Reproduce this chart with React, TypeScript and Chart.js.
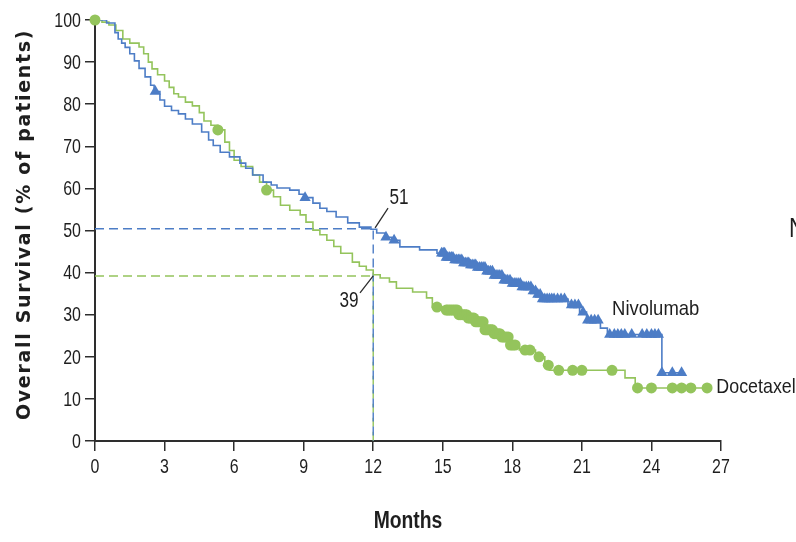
import React, { useEffect, useRef } from "react";
import { Chart, registerables } from "chart.js";

Chart.register(...registerables);

// ---- Data ----
const monthTicksMax = 27;
const monthStep = 3;
const survivalMax = 100;
const survivalStep = 10;

const nivolumabMonths = [
  0, 0.5, 0.86, 1.0, 1.15, 1.3, 1.5, 1.7, 1.9, 2.16, 2.4, 2.55, 2.8, 3.0, 3.3, 3.6, 3.9, 4.2, 4.6, 4.9,
  5.1, 5.4, 5.8, 6.25, 6.5, 6.8, 7.25, 7.6, 7.85, 8.4, 8.8, 9.0, 9.4, 9.7, 10.0, 10.4, 10.9, 11.4, 11.9,
  12.15, 12.5, 12.8, 13.15, 14.0, 14.75, 15.1, 15.5, 15.9, 16.2, 16.5, 16.9, 17.2, 17.6, 18.0, 18.4, 18.9,
  19.1, 19.3, 20.4, 20.9, 21.2, 21.8, 22.1, 24.45, 25.45,
];
const nivolumabSurvival = [
  100, 99.3, 97, 95.5, 94.5, 93.5, 92, 90.3, 88.5, 86.5, 84.5, 83, 81, 79.5, 78.5, 77.7, 76.5, 75.3, 73.4, 71.5,
  70.2, 68.6, 67.5, 66, 64.8, 63.2, 61.5, 60.8, 60.1, 59.6, 58.6, 57.8, 56.5, 55.3, 54.5, 53.2, 51.8, 50.8, 50.3,
  49.4, 48.4, 47.7, 46.1, 45.4, 44.6, 43.6, 43.0, 42.3, 41.8, 41.2, 40.3, 39.3, 38.2, 37.4, 36.6, 35.6,
  34.8, 33.7, 32.3, 30.6, 28.7, 26.8, 25.3, 16.2, 16.2,
];
const nivolumabCensored = [
  2.6, 9.06, 12.55, 12.9,
  14.95, 15.02, 15.08, 15.15, 15.22, 15.3, 15.37, 15.44, 15.52, 15.6, 15.67, 15.74, 15.82, 15.9, 15.97,
  16.05, 16.12, 16.2, 16.27, 16.35, 16.42, 16.5, 16.58, 16.66, 16.74, 16.82, 16.9, 16.98, 17.06, 17.14,
  17.22, 17.3, 17.38, 17.46, 17.55, 17.64, 17.72, 17.8, 17.9, 18.0, 18.08, 18.16, 18.25, 18.34, 18.42,
  18.5, 18.6, 18.7, 18.8, 18.9, 19.0, 19.1, 19.2, 19.3, 19.4, 19.5, 19.6, 19.7, 19.8, 19.95, 20.1, 20.25,
  20.55, 20.7, 20.85, 21.05, 21.25, 21.4, 21.55, 21.7,
  22.2, 22.4, 22.55, 22.7, 22.85, 23.15, 23.6, 23.8, 24.0, 24.15, 24.3, 24.45, 24.9, 25.3,
];

const docetaxelMonths = [
  0, 0.3, 0.6, 0.9, 1.2, 1.5, 1.9, 2.1, 2.3, 2.46, 2.7, 3.0, 3.2, 3.4, 3.6, 3.9, 4.2, 4.5, 4.7, 5.0,
  5.3, 5.6, 5.8, 6.0, 6.3, 6.8, 7.1, 7.4, 7.7, 8.0, 8.4, 8.85, 9.1, 9.4, 9.7, 10.0, 10.3, 10.6, 11.1,
  11.4, 11.7, 12.0, 12.3, 12.7, 13.0, 13.7, 14.3, 14.55, 15.1, 15.7, 16.1, 16.4, 16.8, 17.2, 17.5, 17.9,
  18.3, 19.0, 19.4, 19.6, 22.86, 23.3, 26.4,
];
const docetaxelSurvival = [
  100, 99.5, 98.8, 97.5, 95.5, 94.5, 93.6, 92, 90, 88.4, 87, 85.5, 84, 82.5, 81.7, 80.5, 79.6, 78, 76, 75,
  73.9, 71, 69, 66.7, 65.2, 63.2, 61.5, 59.6, 58, 56, 54.8, 53.7, 52, 50.1, 49, 47.7, 46.2, 44.6, 42.5,
  41.5, 40.6, 39.5, 38.7, 37.8, 36.3, 35.4, 34, 31.8, 31.1, 30, 29.2, 28.3, 26.4, 25.5, 24.7, 22.8,
  21.6, 20, 18, 16.8, 15, 12.6, 12.6,
];
const docetaxelCensored = [
  0, 5.3, 7.4, 14.75,
  15.15, 15.22, 15.3, 15.38, 15.46, 15.54, 15.62, 15.7, 15.78, 15.86, 15.94, 16.02, 16.1, 16.18, 16.26,
  16.34, 16.42, 16.5, 16.58, 16.66, 16.74, 16.82, 16.9, 16.98, 17.06, 17.14, 17.22, 17.3, 17.38, 17.46,
  17.55, 17.64, 17.73, 17.82, 17.92, 18.02, 18.12, 18.55, 18.76,
  19.15, 19.55, 20.0, 20.6, 21.0, 22.3,
  23.4, 24.0, 24.9, 25.3, 25.7, 26.4,
];

const landmarkMonth = 12;
const nivolumabAtLandmark = 50.4;
const docetaxelAtLandmark = 39.2;
const landmarkLabels = ["51", "39"];
const seriesNames = ["Nivolumab", "Docetaxel"];
const xTitle = "Months";
const yTitle = "Overall Survival (% of patients)";
const clippedSideText = "N";

// ---- Styling ----
const BLUE = "#4d7dc6";
const GREEN = "#94c45c";
const AXIS = "#2e2e2e";
const TEXT = "#1e1e1e";
const SANS = '"Liberation Sans", Arial, sans-serif';

function stepValue(times: number[], values: number[], t: number): number {
  let v = values[0];
  for (let i = 0; i < times.length; i++) {
    if (times[i] <= t + 1e-9) v = values[i];
    else break;
  }
  return v;
}

function narrowText(
  ctx: CanvasRenderingContext2D,
  text: string,
  x: number,
  y: number,
  font: string,
  sx: number,
  align: CanvasTextAlign,
  baseline: CanvasTextBaseline
) {
  ctx.save();
  ctx.translate(x, y);
  ctx.scale(sx, 1);
  ctx.font = font;
  ctx.textAlign = align;
  ctx.textBaseline = baseline;
  ctx.fillText(text, 0, 0);
  ctx.restore();
}

const annotationPlugin = {
  id: "kmAnnotations",
  afterDatasetsDraw(chart: any) {
    const { ctx, scales } = chart;
    const x = scales.x;
    const y = scales.y;
    const px = (v: number) => x.getPixelForValue(v);
    const py = (v: number) => y.getPixelForValue(v);
    ctx.save();
    // leader lines
    ctx.strokeStyle = AXIS;
    ctx.lineWidth = 1.3;
    ctx.beginPath();
    ctx.moveTo(px(12.08), py(50.6));
    ctx.lineTo(px(12.64), py(55.3));
    ctx.moveTo(px(12.0), py(39.2));
    ctx.lineTo(px(11.43), py(35.2));
    ctx.stroke();

    ctx.fillStyle = TEXT;
    narrowText(ctx, landmarkLabels[0], px(13.11), py(57.7), `22px ${SANS}`, 0.78, "center", "middle");
    narrowText(ctx, landmarkLabels[1], px(10.96), py(33.3), `22px ${SANS}`, 0.78, "center", "middle");

    narrowText(ctx, seriesNames[0], px(22.3), py(31.4), `21px ${SANS}`, 0.88, "left", "middle");
    narrowText(ctx, seriesNames[1], px(26.8), py(12.8), `21px ${SANS}`, 0.85, "left", "middle");

    narrowText(ctx, clippedSideText, chart.width - 7, 237, `28px ${SANS}`, 0.8, "left", "alphabetic");

    // tick labels
    const tickFont = `21px ${SANS}`;
    for (const t of y.ticks) {
      narrowText(ctx, String(t.value), y.right - 14, py(t.value) + 1, tickFont, 0.76, "right", "middle");
    }
    for (const t of x.ticks) {
      narrowText(ctx, String(t.value), px(t.value), x.top + 26, tickFont, 0.76, "center", "middle");
    }

    // axis titles
    narrowText(ctx, xTitle, (x.left + x.right) / 2, 522, `bold 23px ${SANS}`, 0.84, "center", "middle");

    ctx.save();
    ctx.translate(25, (y.top + y.bottom) / 2 - 6);
    ctx.rotate(-Math.PI / 2);
    ctx.font = `bold 19px "DejaVu Sans", "Open Sans", sans-serif`;
    (ctx as any).letterSpacing = "1.7px";
    ctx.textAlign = "center";
    ctx.textBaseline = "middle";
    ctx.fillText(yTitle, 0, 0);
    ctx.restore();

    ctx.restore();
  },
};

export default function App() {
  const canvasRef = useRef<HTMLCanvasElement | null>(null);

  useEffect(() => {
    const canvas = canvasRef.current;
    if (!canvas) return;

    const nivoLine = nivolumabMonths.map((m, i) => ({ x: m, y: nivolumabSurvival[i] }));
    const doceLine = docetaxelMonths.map((m, i) => ({ x: m, y: docetaxelSurvival[i] }));
    const nivoMarks = nivolumabCensored.map((m) => ({ x: m, y: stepValue(nivolumabMonths, nivolumabSurvival, m) }));
    const doceMarks = docetaxelCensored.map((m) => ({ x: m, y: stepValue(docetaxelMonths, docetaxelSurvival, m) }));

    const chart = new Chart(canvas, {
      type: "scatter",
      data: {
        datasets: [
          {
            label: "nivo-censor",
            data: nivoMarks,
            pointStyle: "triangle",
            pointRadius: 6.5,
            backgroundColor: BLUE,
            borderColor: BLUE,
            borderWidth: 0,
            showLine: false,
            clip: false as any,
          },
          {
            label: "doce-censor",
            data: doceMarks,
            pointStyle: "circle",
            pointRadius: 5.5,
            backgroundColor: GREEN,
            borderColor: GREEN,
            borderWidth: 0,
            showLine: false,
            clip: false as any,
          },
          {
            label: seriesNames[0],
            data: nivoLine,
            showLine: true,
            stepped: "before",
            borderColor: BLUE,
            borderWidth: 1.6,
            pointRadius: 0,
            fill: false,
          },
          {
            label: seriesNames[1],
            data: doceLine,
            showLine: true,
            stepped: "before",
            borderColor: GREEN,
            borderWidth: 1.6,
            pointRadius: 0,
            fill: false,
          },
          {
            label: "nivo-landmark",
            data: [
              { x: 0, y: nivolumabAtLandmark },
              { x: landmarkMonth, y: nivolumabAtLandmark },
              { x: landmarkMonth, y: 0 },
            ],
            showLine: true,
            borderColor: BLUE,
            borderWidth: 1.4,
            borderDash: [9, 5],
            pointRadius: 0,
            fill: false,
          },
          {
            label: "doce-landmark",
            data: [
              { x: 0, y: docetaxelAtLandmark },
              { x: landmarkMonth, y: docetaxelAtLandmark },
              { x: landmarkMonth, y: 0 },
            ],
            showLine: true,
            borderColor: GREEN,
            borderWidth: 1.4,
            borderDash: [9, 5],
            pointRadius: 0,
            fill: false,
          },
        ],
      },
      options: {
        responsive: false,
        animation: false,
        events: [],
        layout: { padding: { left: 0, top: 20, right: 75, bottom: 0 } },
        plugins: {
          legend: { display: false },
          tooltip: { enabled: false },
        },
        scales: {
          x: {
            type: "linear",
            min: 0,
            max: monthTicksMax,
            afterFit: (scale: any) => {
              scale.height = 101;
            },
            ticks: {
              stepSize: monthStep,
              color: "rgba(0,0,0,0)",
              font: { family: SANS, size: 20 },
              padding: 2,
            },
            grid: {
              display: true,
              drawOnChartArea: false,
              drawTicks: true,
              tickLength: 10,
              color: AXIS,
              lineWidth: 1.5,
            },
            border: { display: true, color: AXIS, width: 2 },
          },
          y: {
            type: "linear",
            min: 0,
            max: survivalMax,
            afterFit: (scale: any) => {
              scale.width = 95;
            },
            ticks: {
              stepSize: survivalStep,
              color: "rgba(0,0,0,0)",
              font: { family: SANS, size: 20 },
              padding: 4,
            },
            grid: {
              display: true,
              drawOnChartArea: false,
              drawTicks: true,
              tickLength: 10,
              color: AXIS,
              lineWidth: 1.5,
            },
            border: { display: true, color: AXIS, width: 2 },
          },
        },
      },
      plugins: [annotationPlugin],
    });

    return () => {
      chart.destroy();
    };
  }, []);

  return (
    <div style={{ position: "absolute", left: 0, top: 0, width: 796, height: 542, background: "#ffffff" }}>
      <canvas ref={canvasRef} width={796} height={542} style={{ display: "block" }} />
    </div>
  );
}
